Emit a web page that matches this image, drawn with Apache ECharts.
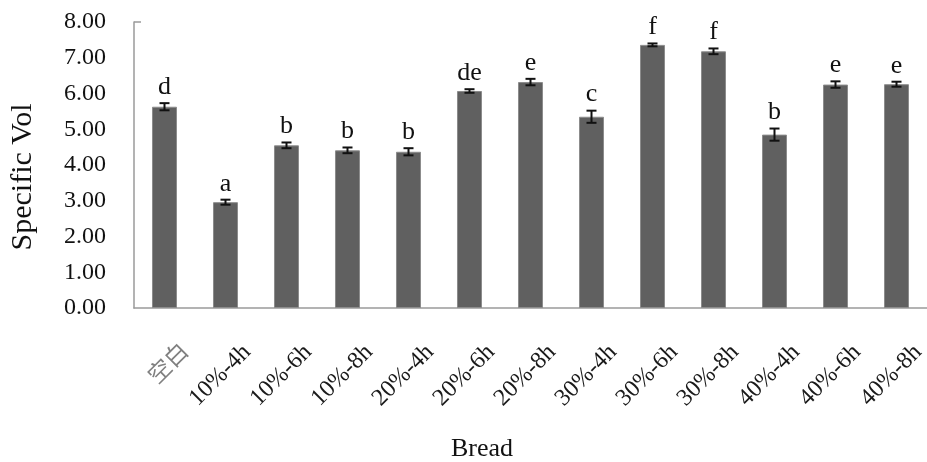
<!DOCTYPE html>
<html>
<head>
<meta charset="utf-8">
<script src="https://cdn.jsdelivr.net/npm/echarts@6/dist/echarts.min.js"></script>
<style>html,body{margin:0;padding:0;background:#fff}#c{width:927px;height:462px}</style>
</head>
<body>
<div id="c"></div>
<script>
const categories = ['空白','10%-4h','10%-6h','10%-8h','20%-4h','20%-6h','20%-8h','30%-4h','30%-6h','30%-8h','40%-4h','40%-6h','40%-8h'];
const values = [5.63, 2.96, 4.55, 4.41, 4.37, 6.07, 6.32, 5.35, 7.36, 7.18, 4.85, 6.25, 6.26];
const errors = [0.10, 0.07, 0.08, 0.08, 0.10, 0.05, 0.09, 0.17, 0.04, 0.08, 0.17, 0.09, 0.07];
const letters = ['d','a','b','b','b','de','e','c','f','f','b','e','e'];
const yTicks = [0, 1, 2, 3, 4, 5, 6, 7, 8];

const serif = "'Liberation Serif','Times New Roman','Noto Sans CJK SC',serif";
const chart = echarts.init(document.getElementById('c'));
const errData = values.map((v, i) => [i, v, errors[i]]);
const labelData = categories.map((c, i) => [i, 0]);
const yMax = yTicks[yTicks.length - 1];

chart.setOption({
  animation: false,
  grid: { left: 131, width: 804, top: 22, bottom: 154, containLabel: false },
  xAxis: {
    type: 'category',
    data: categories,
    axisLine: { lineStyle: { color: '#9a9a9a', width: 1.5 } },
    axisTick: { inside: true, length: 7, lineStyle: { color: '#a8a8a8' } },
    axisLabel: { show: false }
  },
  yAxis: {
    type: 'value', min: yTicks[0], max: yMax, interval: 1,
    name: 'Specific Vol', nameLocation: 'middle', nameGap: 96,
    nameTextStyle: { fontFamily: serif, fontSize: 30, color: '#111', padding: [0, 24, 0, 0] },
    axisLine: { show: true, lineStyle: { color: '#9a9a9a', width: 1.5 } },
    axisTick: { show: false },
    splitLine: { show: false },
    axisLabel: {
      fontFamily: serif, fontSize: 24, color: '#111', margin: 28,
      formatter: v => v.toFixed(2)
    }
  },
  graphic: [{
    type: 'text', x: 482, y: 449,
    style: { text: 'Bread', font: '26px ' + serif, fill: '#111', align: 'center', verticalAlign: 'middle' }
  }],
  series: [
    {
      type: 'bar', data: values, barWidth: 25,
      itemStyle: { color: '#606060', borderColor: '#8c8c8c', borderWidth: 1 }
    },
    {
      type: 'custom', data: errData, z: 10,
      renderItem: function (params, api) {
        const i = api.value(0), v = api.value(1), e = api.value(2);
        const top = api.coord([i, v + e]);
        const bot = api.coord([i, v - e]);
        const cap = 5;
        const st = { stroke: '#111', lineWidth: 2 };
        return {
          type: 'group',
          children: [
            { type: 'line', shape: { x1: top[0], y1: top[1], x2: bot[0], y2: bot[1] }, style: st },
            { type: 'line', shape: { x1: top[0] - cap, y1: top[1], x2: top[0] + cap, y2: top[1] }, style: st },
            { type: 'line', shape: { x1: bot[0] - cap, y1: bot[1], x2: bot[0] + cap, y2: bot[1] }, style: st },
            { type: 'text', x: top[0], y: top[1] - 3,
              style: { text: letters[i], font: '26px ' + serif, fill: '#111', align: 'center', verticalAlign: 'bottom' } }
          ]
        };
      }
    },
    {
      type: 'custom', data: labelData, z: 10, silent: true,
      renderItem: function (params, api) {
        const i = api.value(0);
        const p = api.coord([i, 0]);
        const isCJK = i === 0;
        const children = [{
          type: 'text', x: p[0] + 13, y: p[1] + 32, rotation: Math.PI / 4,
          style: {
            text: categories[i],
            font: (isCJK ? '23px ' : '24px ') + serif,
            fill: isCJK ? '#808080' : '#1a1a1a',
            align: 'right', verticalAlign: 'top'
          }
        }];
        if (i === 0) {
          const half = api.size([1, 0])[0] / 2;
          const t = api.coord([0, yMax]);
          children.push({ type: 'line', shape: { x1: t[0] - half, y1: t[1], x2: t[0] - half + 7, y2: t[1] },
            style: { stroke: '#9a9a9a', lineWidth: 1.5 } });
        }
        return { type: 'group', children: children };
      }
    }
  ]
});
</script>
</body>
</html>
